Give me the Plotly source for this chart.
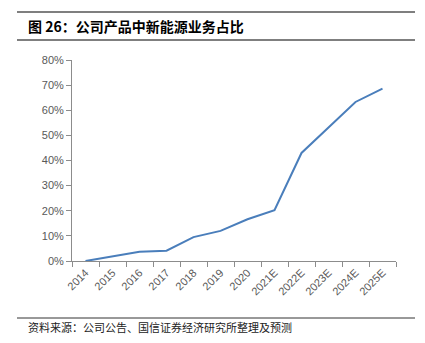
import plotly.graph_objects as go

categories = ["2014", "2015", "2016", "2017", "2018", "2019", "2020",
              "2021E", "2022E", "2023E", "2024E", "2025E"]
share = [0.000, 0.018, 0.037, 0.041, 0.095, 0.120, 0.166,
         0.202, 0.430, 0.531, 0.633, 0.686]
y_ticks = [0, 0.1, 0.2, 0.3, 0.4, 0.5, 0.6, 0.7, 0.8]
y_tick_labels = ["0%", "10%", "20%", "30%", "40%", "50%", "60%", "70%", "80%"]

title_text = "<b>图 26：公司产品中新能源业务占比</b>"
source_text = "资料来源：公司公告、国信证券经济研究所整理及预测"

W, H = 425, 343
L, R, T, B = 72, 29, 60, 82
pw, ph = W - L - R, H - T - B

def px(x):
    return (x - L) / pw

def py(y):
    return (H - B - y) / ph

fig = go.Figure()
fig.add_trace(go.Scatter(
    x=categories, y=share, mode="lines",
    line=dict(color="#4a7ebb", width=2),
    hoverinfo="skip", showlegend=False,
))

axis_gray = "#8c8c8c"
tick_font = dict(family="Liberation Sans, Arial, sans-serif", size=11, color="#595959")

fig.update_layout(
    width=W, height=H,
    margin=dict(l=L, r=R, t=T, b=B),
    paper_bgcolor="white", plot_bgcolor="white",
    xaxis=dict(
        type="category", range=[-0.5, 11.5],
        showline=True, linecolor=axis_gray, linewidth=1,
        ticks="outside", ticklen=5, tickcolor=axis_gray, tickson="boundaries",
        tickangle=-45, tickfont=tick_font, showgrid=False, zeroline=False,
    ),
    yaxis=dict(
        range=[0, 0.8], tickvals=y_ticks, ticktext=y_tick_labels,
        showline=True, linecolor=axis_gray, linewidth=1,
        ticks="outside", ticklen=5, tickcolor=axis_gray,
        tickfont=tick_font, showgrid=False, zeroline=False,
    ),
    shapes=[
        dict(type="line", xref="paper", yref="paper",
             x0=px(17), x1=px(415), y0=py(12), y1=py(12),
             line=dict(color="#555555", width=1.5)),
        dict(type="line", xref="paper", yref="paper",
             x0=px(17), x1=px(415), y0=py(40), y1=py(40),
             line=dict(color="#555555", width=1.5)),
        dict(type="line", xref="paper", yref="paper",
             x0=px(17), x1=px(415), y0=py(318), y1=py(318),
             line=dict(color="#333333", width=1)),
    ],
    annotations=[
        dict(text=title_text, xref="paper", yref="paper",
             x=px(26), y=py(26), xanchor="left", yanchor="middle",
             showarrow=False,
             font=dict(family="Noto Sans CJK SC", size=14, color="#000000")),
        dict(text=source_text, xref="paper", yref="paper",
             x=px(26), y=py(327), xanchor="left", yanchor="middle",
             showarrow=False,
             font=dict(family="Noto Sans CJK SC", size=11, color="#222222")),
    ],
)

fig.write_html("out.html")
